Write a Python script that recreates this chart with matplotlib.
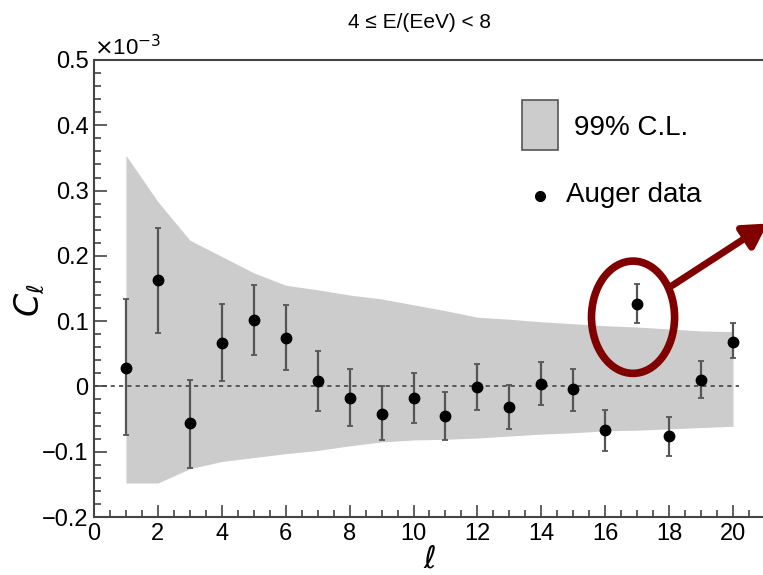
import numpy as np
import matplotlib.pyplot as plt
from matplotlib.patches import Ellipse, Rectangle, FancyArrowPatch
from matplotlib.ticker import MultipleLocator, FuncFormatter

plt.rcParams['font.family'] = ['Liberation Sans', 'DejaVu Sans']
plt.rcParams['mathtext.fontset'] = 'dejavusans'

# multipole data (units of 1e-3)
ell = np.arange(1, 21)
cl = [0.028, 0.163, -0.056, 0.067, 0.102, 0.074, 0.008, -0.018, -0.042, -0.018,
      -0.045, -0.001, -0.031, 0.004, -0.004, -0.067, 0.126, -0.076, 0.010, 0.068]
cl_hi = [0.134, 0.243, 0.010, 0.126, 0.155, 0.125, 0.054, 0.027, 0.000, 0.021,
         -0.009, 0.034, 0.002, 0.037, 0.026, -0.036, 0.157, -0.047, 0.039, 0.097]
cl_lo = [-0.074, 0.082, -0.125, 0.008, 0.048, 0.025, -0.038, -0.060, -0.082, -0.056,
         -0.082, -0.036, -0.065, -0.028, -0.038, -0.099, 0.097, -0.106, -0.018, 0.044]

# 99% C.L. isotropy band
band_hi = [0.354, 0.283, 0.224, 0.199, 0.174, 0.155, 0.148, 0.140, 0.134, 0.125,
           0.116, 0.106, 0.103, 0.099, 0.096, 0.093, 0.091, 0.088, 0.085, 0.084]
band_lo = [-0.148, -0.148, -0.126, -0.115, -0.109, -0.103, -0.098, -0.091, -0.085, -0.082,
           -0.081, -0.079, -0.076, -0.073, -0.071, -0.068, -0.067, -0.065, -0.063, -0.061]

cl = np.array(cl)
yerr = [cl - np.array(cl_lo), np.array(cl_hi) - cl]

fig = plt.figure(figsize=(7.63, 5.75), dpi=100)
ax = fig.add_axes([94/763, 1-517/575, 671/763, 457/575])

ax.fill_between(ell, band_lo, band_hi, color='#cccccc', lw=0, zorder=1)
ax.hlines(0, 0, 20.2, colors='#444444', linestyles=(0, (2.5, 2.5)), lw=1.2, zorder=2)
ax.errorbar(ell, cl, yerr=yerr, fmt='o', color='black', ms=7.5,
            ecolor='#555555', elinewidth=1.6, capsize=2.5, capthick=1.3, zorder=3)

ax.set_xlim(0, 21)
ax.set_ylim(-0.2, 0.5)
ax.xaxis.set_major_locator(MultipleLocator(2))
ax.xaxis.set_minor_locator(MultipleLocator(0.5))
ax.yaxis.set_major_locator(MultipleLocator(0.1))
ax.yaxis.set_minor_locator(MultipleLocator(0.02))
ax.yaxis.set_major_formatter(FuncFormatter(lambda v, p: '0' if abs(v) < 1e-9 else ('%.1f' % v).replace('-', '\u2212')))

for s in ['left', 'bottom', 'top']:
    ax.spines[s].set_color('#444444')
    ax.spines[s].set_linewidth(1.5)
ax.spines['right'].set_visible(False)
ax.tick_params(which='both', direction='in', color='#444444', width=1.2,
               labelsize=17, top=False, right=False)
ax.tick_params(which='major', length=9, pad=4)
ax.tick_params(which='minor', length=5)

ax.text(0, 1.0, r'$\times$10$^{-3}$', transform=ax.transAxes, fontsize=16,
        ha='left', va='bottom')
ax.set_xlabel(r'$\ell$', fontsize=22, labelpad=0)
ax.set_ylabel(r'$C_\ell$', fontsize=24, va='center')
ax.yaxis.set_label_coords((30-94)/671, 1-(300-60)/457)
fig.text(0.55, 0.96, '4 \u2264 E/(EeV) < 8', fontsize=15, ha='center', va='center')

# legend
ax.add_patch(Rectangle(((522-94)/671, 1-(150-60)/457), 36/671, 50/457,
                       transform=ax.transAxes, facecolor='#cccccc',
                       edgecolor='#555555', lw=1.2, zorder=5))
ax.text((574-94)/671, 1-(128-60)/457, '99% C.L.', transform=ax.transAxes,
        fontsize=20, va='center', ha='left')
ax.plot([(540-94)/671], [1-(196-60)/457], 'o', color='black', ms=7,
        transform=ax.transAxes)
ax.text((566-94)/671, 1-(195-60)/457, 'Auger data', transform=ax.transAxes,
        fontsize=20, va='center', ha='left')

# highlight of l=17
ax.add_patch(Ellipse((16.87, 0.106), 2.6, 0.172, fill=False,
                     edgecolor='#800000', lw=5.5, zorder=6))
fig.patches.append(FancyArrowPatch(
    (670/763, 1-287/575), (770/763, 1-222/575), transform=fig.transFigure,
    arrowstyle='-|>,head_length=14,head_width=8', color='#800000', lw=5,
    mutation_scale=1))

fig.savefig('out.png', dpi=100)
